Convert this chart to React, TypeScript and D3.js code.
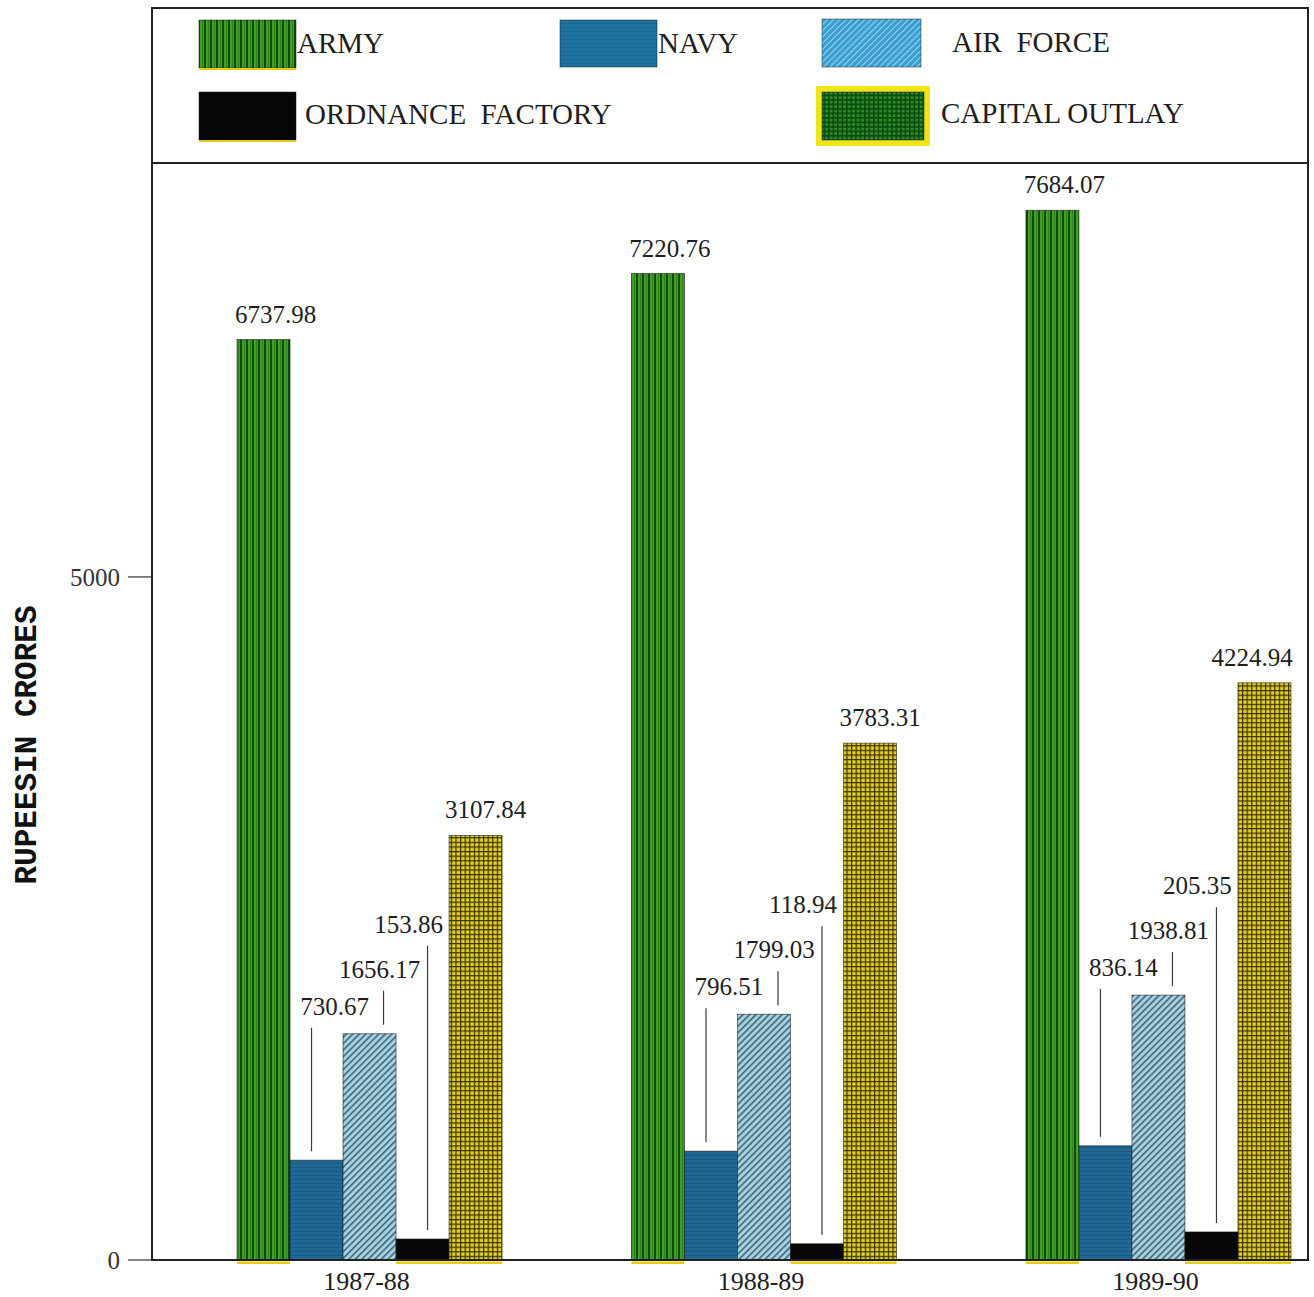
import React from 'react';
import * as d3 from 'd3';

// ---------- DATA ----------
const years = ['1987-88', '1988-89', '1989-90'];
const seriesKeys = ['army', 'navy', 'airForce', 'ordnance', 'capital'];
const seriesNames = ['ARMY', 'NAVY', 'AIR  FORCE', 'ORDNANCE  FACTORY', 'CAPITAL OUTLAY'];
const army = [6737.98, 7220.76, 7684.07];
const navy = [730.67, 796.51, 836.14];
const airForce = [1656.17, 1799.03, 1938.81];
const ordnance = [153.86, 118.94, 205.35];
const capitalOutlay = [3107.84, 3783.31, 4224.94];
const yTicks = [0, 5000];
const yTitle = 'RUPEESIN CRORES';

const valuesByKey: Record<string, number[]> = {
  army,
  navy,
  airForce,
  ordnance,
  capital: capitalOutlay,
};

// ---------- LAYOUT / STYLE ----------
const W = 1314;
const H = 1297;
const frameL = 152;
const frameR = 1308;
const frameT = 8;
const legendB = 163;
const baseY = 1260;
const serif = '"Liberation Serif", "Times New Roman", serif';
const ink = '#1e1e1e';

const barFill: Record<string, string> = {
  army: 'url(#armyPat)',
  navy: 'url(#navyPat)',
  airForce: 'url(#afPat)',
  ordnance: '#070707',
  capital: 'url(#coPat)',
};
const legendFill: Record<string, string> = {
  army: 'url(#armyPat)',
  navy: 'url(#navyLegPat)',
  airForce: 'url(#afLegPat)',
  ordnance: '#070707',
  capital: 'url(#coLegPat)',
};
const legendPos: Record<string, { x: number; y: number; w: number; h: number; tx: number; ty: number }> = {
  army: { x: 199, y: 20, w: 97, h: 48, tx: 297, ty: 53 },
  navy: { x: 560, y: 20, w: 97, h: 47, tx: 658, ty: 53 },
  airForce: { x: 822, y: 19, w: 99, h: 48, tx: 952, ty: 52 },
  ordnance: { x: 199, y: 92, w: 97, h: 48, tx: 305, ty: 124 },
  capital: { x: 822, y: 92, w: 102, h: 48, tx: 941, ty: 123 },
};
// leader-label placement per small series (offsets from bar centre, tiers above air-force bar top)
const leaderConf: Record<string, { labelDx: number; lineDx: number; tier: number }> = {
  navy: { labelDx: 18, lineDx: -5, tier: 19 },
  airForce: { labelDx: 10, lineDx: 14, tier: 56 },
  ordnance: { labelDx: -14, lineDx: 5, tier: 101 },
};
const underline: Record<string, boolean> = { army: true, ordnance: true, capital: true };

export default function App() {
  const y = d3.scaleLinear().domain([0, 8030]).range([baseY, legendB]);
  const x0 = d3.scaleBand<string>().domain(years).range([237, 1291]).paddingInner(0.328);
  const x1 = d3.scaleBand<string>().domain(seriesKeys).range([0, x0.bandwidth()]);
  const bw = x1.bandwidth();

  const bars: React.ReactNode[] = [];
  const labels: React.ReactNode[] = [];

  years.forEach((yr, i) => {
    const gx = x0(yr)!;
    const afTop = y(airForce[i]);
    seriesKeys.forEach((k) => {
      const v = valuesByKey[k][i];
      const bx = gx + x1(k)!;
      const by = y(v);
      const cx = bx + bw / 2;
      bars.push(
        <rect key={`b-${k}-${i}`} x={bx} y={by} width={bw} height={baseY - by}
          fill={barFill[k]} stroke="#1a1a1a" strokeWidth={0.8} strokeOpacity={0.7} />
      );
      if (underline[k]) {
        bars.push(
          <rect key={`u-${k}-${i}`} x={bx} y={baseY + 1.5} width={bw} height={2.5} fill="#e8cc10" />
        );
      }
      const text = d3.format('.2f')(v);
      if (k === 'army' || k === 'capital') {
        let lx = cx + (k === 'army' ? 12 : 10);
        lx = Math.min(lx, frameR - 56);
        labels.push(
          <text key={`l-${k}-${i}`} x={lx} y={by - 17} textAnchor="middle" fontSize={25}
            fontFamily={serif} fill={ink}>{text}</text>
        );
      } else {
        const c = leaderConf[k];
        const ly = afTop - c.tier;
        labels.push(
          <g key={`l-${k}-${i}`}>
            <text x={cx + c.labelDx} y={ly} textAnchor="middle" fontSize={25}
              fontFamily={serif} fill={ink}>{text}</text>
            <line x1={cx + c.lineDx} x2={cx + c.lineDx} y1={ly + 13} y2={by - 9}
              stroke="#3a3a3a" strokeWidth={1.2} />
          </g>
        );
      }
    });
  });

  return (
    <svg width={W} height={H} viewBox={`0 0 ${W} ${H}`}
      style={{ position: 'absolute', left: 0, top: 0, background: '#fff' }}>
      <defs>
        <pattern id="armyPat" width={6} height={10} patternUnits="userSpaceOnUse">
          <rect width={6} height={10} fill="#40a024" />
          <rect x={0} width={2} height={10} fill="#0e4a0b" />
          <rect x={4} width={1} height={10} fill="#2e8019" />
        </pattern>
        <pattern id="navyPat" width={8} height={4} patternUnits="userSpaceOnUse">
          <rect width={8} height={4} fill="#1f6896" />
          <rect y={3} width={8} height={1} fill="#185679" opacity={0.8} />
        </pattern>
        <pattern id="navyLegPat" width={8} height={4} patternUnits="userSpaceOnUse">
          <rect width={8} height={4} fill="#1e729f" />
          <rect y={3} width={8} height={1} fill="#1a6088" opacity={0.6} />
        </pattern>
        <pattern id="afPat" width={4.6} height={10} patternUnits="userSpaceOnUse" patternTransform="rotate(45)">
          <rect width={4.6} height={10} fill="#a9d0e0" />
          <rect x={0} width={1.6} height={10} fill="#3e6778" />
        </pattern>
        <pattern id="afLegPat" width={4.4} height={10} patternUnits="userSpaceOnUse" patternTransform="rotate(45)">
          <rect width={4.4} height={10} fill="#3a9fd0" />
          <rect x={0} width={1} height={10} fill="#9dd6f0" />
        </pattern>
        <pattern id="coPat" width={4.6} height={4.6} patternUnits="userSpaceOnUse">
          <rect width={4.6} height={4.6} fill="#e2cf1e" />
          <rect width={4.6} height={1.2} fill="#3a3208" />
          <rect width={1.2} height={4.6} fill="#3a3208" />
        </pattern>
        <pattern id="coLegPat" width={4.5} height={4.5} patternUnits="userSpaceOnUse">
          <rect width={4.5} height={4.5} fill="#2c8a24" />
          <rect width={4.5} height={1.6} fill="#0a4a10" />
          <rect width={1.6} height={4.5} fill="#0a4a10" />
        </pattern>
      </defs>

      {/* frame */}
      <rect x={frameL} y={frameT} width={frameR - frameL} height={baseY - frameT}
        fill="none" stroke="#222" strokeWidth={2} />
      <line x1={frameL} x2={frameR} y1={legendB} y2={legendB} stroke="#222" strokeWidth={2} />

      {/* legend */}
      {seriesKeys.map((k, i) => {
        const p = legendPos[k];
        return (
          <g key={`leg-${k}`}>
            {k === 'capital' && (
              <rect x={p.x - 6} y={p.y - 6} width={p.w + 12} height={p.h + 12} fill="#f2e21a" rx={2} />
            )}
            <rect x={p.x} y={p.y} width={p.w} height={p.h} fill={legendFill[k]}
              stroke="#1a1a1a" strokeWidth={0.8} strokeOpacity={0.6} />
            {(k === 'army' || k === 'ordnance') && (
              <rect x={p.x} y={p.y + p.h} width={p.w} height={2} fill="#e8cc10" />
            )}
            <text x={p.tx} y={p.ty} fontSize={29} fontFamily={serif} fill={ink} style={{ whiteSpace: 'pre' }}>
              {seriesNames[i]}
            </text>
          </g>
        );
      })}

      {/* bars */}
      {bars}
      {labels}

      {/* baseline */}
      <line x1={frameL} x2={frameR} y1={baseY} y2={baseY} stroke="#222" strokeWidth={2} />

      {/* y ticks */}
      {yTicks.map((t) => (
        <g key={`t-${t}`}>
          <line x1={128} x2={frameL} y1={y(t)} y2={y(t)} stroke="#333" strokeWidth={1.2} />
          <text x={120} y={y(t)} dy="0.35em" textAnchor="end" fontSize={25} fontFamily={serif} fill="#333">
            {t}
          </text>
        </g>
      ))}

      {/* y title */}
      <text transform="translate(27,745) rotate(-90)" textAnchor="middle" dominantBaseline="central"
        fontSize={31} fontWeight="bold" fontFamily='"Liberation Mono", "DejaVu Sans Mono", monospace'
        fill="#111">{yTitle}</text>

      {/* x labels */}
      {years.map((yr) => (
        <text key={`x-${yr}`} x={x0(yr)! + x0.bandwidth() / 2 - 3} y={1290} textAnchor="middle"
          fontSize={26} fontFamily={serif} fill={ink}>{yr}</text>
      ))}
    </svg>
  );
}
